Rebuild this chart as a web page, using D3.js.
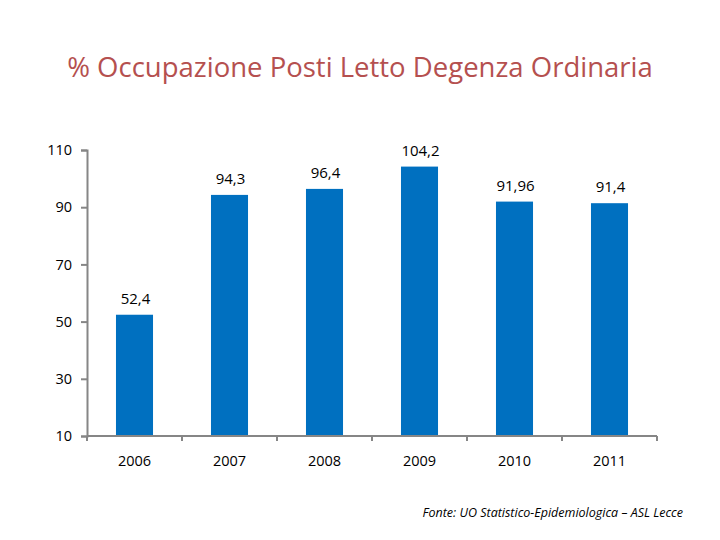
<!DOCTYPE html>
<meta charset="utf-8">
<style>
    body { margin: 0; background: #fff; }
    text { font-family: "Open Sans", "DejaVu Sans", sans-serif; fill: #000; }
    .title { fill: #b5504f; font-size: 27.5px; }
    .axis path, .axis line { stroke: #868686; stroke-width: 2px; }
    .axis text { font-size: 14.5px; fill: #000; }
    .label { font-size: 15px; }
    .fonte { font-size: 12.5px; font-style: italic; }
</style>
<body>
<svg width="720" height="540"></svg>
</body>
<script src="https://d3js.org/d3.v7.min.js"></script>
<script>
    var years = ["2006", "2007", "2008", "2009", "2010", "2011"];
    var values = [52.4, 94.3, 96.4, 104.2, 91.96, 91.4];
    var labels = ["52,4", "94,3", "96,4", "104,2", "91,96", "91,4"];
    var yTicks = [10, 30, 50, 70, 90, 110];

    var svg = d3.select("svg");
    var plotLeft = 87, plotRight = 657, plotTop = 150, plotBottom = 436;

    svg.append("text")
        .attr("class", "title")
        .attr("x", 360).attr("y", 77)
        .attr("text-anchor", "middle")
        .text("% Occupazione Posti Letto Degenza Ordinaria");

    var x = d3.scaleBand().domain(years).range([plotLeft, plotRight]).paddingInner(0.61).paddingOuter(0.305);
    var y = d3.scaleLinear().domain([10, 110]).range([plotBottom, plotTop]);

    // bars
    svg.selectAll(".bar")
        .data(values)
        .enter().append("rect")
        .attr("class", "bar")
        .attr("fill", "#0070c0")
        .attr("x", function (d, i) { return x(years[i]); })
        .attr("width", x.bandwidth())
        .attr("y", function (d) { return y(d); })
        .attr("height", function (d) { return plotBottom - y(d); });

    svg.selectAll(".label")
        .data(values)
        .enter().append("text")
        .attr("class", "label")
        .attr("text-anchor", "middle")
        .attr("x", function (d, i) { return x(years[i]) + x.bandwidth() / 2 + 1; })
        .attr("y", function (d) { return y(d) - 11; })
        .text(function (d, i) { return labels[i]; });

    // y axis
    svg.append("g")
        .attr("class", "axis")
        .attr("transform", "translate(" + plotLeft + ",0)")
        .call(d3.axisLeft(y).tickValues(yTicks).tickSize(6).tickSizeOuter(6).tickPadding(9));

    // x axis: ticks at category boundaries
    var xAxis = svg.append("g")
        .attr("class", "axis")
        .attr("transform", "translate(0," + plotBottom + ")");
    xAxis.append("line")
        .attr("x1", plotLeft).attr("x2", plotRight);
    var step = x.step();
    xAxis.selectAll(".xt")
        .data(d3.range(years.length + 1))
        .enter().append("line")
        .attr("x1", function (i) { return plotLeft + i * step; })
        .attr("x2", function (i) { return plotLeft + i * step; })
        .attr("y1", 0).attr("y2", 5);
    xAxis.selectAll(".xl")
        .data(years)
        .enter().append("text")
        .attr("text-anchor", "middle")
        .attr("x", function (d) { return x(d) + x.bandwidth() / 2; })
        .attr("y", 30)
        .text(function (d) { return d; });

    svg.append("text")
        .attr("class", "fonte")
        .attr("x", 683).attr("y", 517)
        .attr("text-anchor", "end")
        .text("Fonte: UO Statistico-Epidemiologica \u2013 ASL Lecce");
</script>
